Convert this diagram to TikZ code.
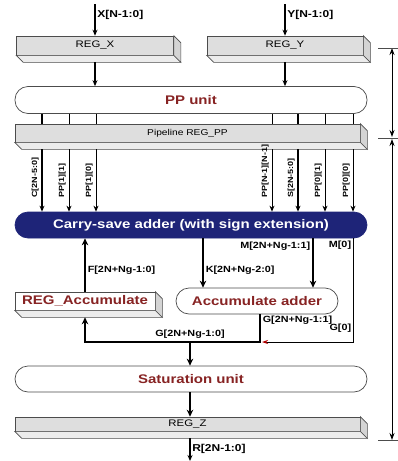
\documentclass[tikz,border=0pt]{standalone}
\usepackage{fontspec}
\setmainfont{Liberation Sans}[FakeStretch=1.2]
\usetikzlibrary{arrows.meta}
\usetikzlibrary{calc}
\definecolor{unitred}{RGB}{135,35,35}
\definecolor{csablue}{RGB}{30,36,120}
\definecolor{regface}{RGB}{222,222,222}
\definecolor{regbot}{RGB}{236,236,236}
\definecolor{regside}{RGB}{212,212,212}
% extruded lower/right faces of a register node
\newcommand{\slab}[1]{%
    \filldraw[fill=regbot, draw=black!70, line width=0.6pt] (#1.south west) -- ++(7,7) -- ($(#1.south east)+(7,7)$) -- (#1.south east) -- cycle;
    \filldraw[fill=regside, draw=black!70, line width=0.6pt] (#1.north east) -- ++(7,7) -- ($(#1.south east)+(7,7)$) -- (#1.south east) -- cycle;}

\begin{document}
\begin{tikzpicture}[x=1pt,y=-1pt,
    reg/.style={draw=black!70, fill=regface, line width=0.6pt, inner sep=0pt, font=\fontsize{9.5}{11}\selectfont},
    unit/.style={draw=black!70, fill=white, line width=0.7pt, rounded corners=13pt, minimum width=352pt, minimum height=27pt, inner sep=0pt, text=unitred, font=\bfseries\fontsize{12.5}{14}\selectfont},
    bus/.style={line width=2.6pt, -{Stealth[length=7pt,width=6.5pt]}},
    sig/.style={line width=1.6pt, -{Stealth[length=6pt,width=5pt]}},
    wire/.style={line width=0.8pt},
    lbl/.style={font=\bfseries\fontsize{9}{10}\selectfont, inner sep=1.5pt},
    vlbl/.style={font=\bfseries\fontsize{7.5}{8}\selectfont, inner sep=1pt, rotate=90, anchor=south west},
    dim/.style={line width=0.9pt, {Stealth[length=7pt,width=5pt]}-{Stealth[length=7pt,width=5pt]}},
]
    \useasboundingbox (0,0) rectangle (398,461);

    % registers and units
    \node[reg, minimum width=157pt, minimum height=19pt] (regx) at (95,45.5) {REG\_X};
    \node[reg, minimum width=156pt, minimum height=19pt] (regy) at (285,45.5) {REG\_Y};
    \node[unit] (pp) at (191,100) {PP unit};
    \node[reg, minimum width=345pt, minimum height=18pt, font=\fontsize{8.5}{10}\selectfont] (regpp) at (187.5,133) {Pipeline REG\_PP};
    \node[unit, fill=csablue, draw=csablue, text=white, minimum height=26pt] (csa) at (191,225) {Carry-save adder (with sign extension)};
    \node[reg, fill=white, minimum width=140pt, minimum height=18pt, text=unitred, font=\bfseries\fontsize{12.5}{14}\selectfont] (regacc) at (85,301) {REG\_Accumulate};
    \node[unit, minimum width=162pt, minimum height=26pt] (accadd) at (257,301) {Accumulate adder};
    \node[unit, minimum height=26pt] (sat) at (191,379) {Saturation unit};
    \node[reg, minimum width=345pt, minimum height=14pt] (regz) at (187.5,424) {REG\_Z};
    \slab{regx}
    \slab{regy}
    \slab{regpp}
    \slab{regacc}
    \slab{regz}

    \coordinate (xin) at (95,4);
    \coordinate (yin) at (285,4);
    \coordinate (ppbot) at ($(regpp.south)+(0,7)$);
    \coordinate (kx) at (203,0);
    \coordinate (mx) at (313,0);
    \coordinate (m0x) at (353,0);
    \coordinate (gjoin) at (260,342);
    \coordinate (gout) at (190,342);
    \coordinate (zbot) at ($(regz.south)+(0,7)$);
    \coordinate (rout) at (190,461);

    % inputs
    \draw[sig] (xin) -- node[pos=0.35, right, lbl, font=\bfseries\fontsize{10}{11}\selectfont] {X[N-1:0]} (regx.north);
    \draw[sig] (yin) -- node[pos=0.35, right, lbl, font=\bfseries\fontsize{10}{11}\selectfont] {Y[N-1:0]} (regy.north);
    \draw[sig] ($(regx.south)+(0,7)$) -- (pp.north -| regx.south);
    \draw[sig] ($(regy.south)+(0,7)$) -- (pp.north -| regy.south);

    % partial products
    \foreach \px/\pw/\ptxt in {42/2.4pt/{C[2N-5:0]}, 69/0.8pt/{PP[1][1]}, 96/0.8pt/{PP[1][0]}, 272/0.8pt/{PP[N-1][N-1]}, 298/2.4pt/{S[2N-5:0]}, 325/0.8pt/{PP[0][1]}, 353/0.8pt/{PP[0][0]}}
    {
        \draw[line width=\pw] (pp.south -| \px,0) -- (regpp.north -| \px,0);
        \draw[line width=\pw, -{Stealth[length=6pt,width=5pt]}] (ppbot -| \px,0) -- (csa.north -| \px,0);
        \node[vlbl] at (\px-2,199) {\ptxt};
    }

    % accumulation loop
    \draw[bus] (regacc.north) -- node[pos=0.4, right, lbl] {F[2N+Ng-1:0]} (csa.south -| regacc.north);
    \draw[bus] (csa.south -| kx) -- node[pos=0.65, right, lbl] {K[2N+Ng-2:0]} (accadd.north -| kx);
    \draw[bus] (csa.south -| mx) -- node[pos=0.15, left, lbl] {M[2N+Ng-1:1]} (accadd.north -| mx);
    \draw[wire, -{Stealth[length=6pt,width=4pt,color=red!70!black]}] (csa.south -| m0x) -- node[pos=0.07, left, lbl] {M[0]} node[pos=0.87, left, lbl] {G[0]} (m0x |- gjoin) -- ([xshift=2pt]gjoin);
    \draw[bus] (accadd.south -| gjoin) -- node[pos=0.2, right, lbl] {G[2N+Ng-1:1]} (gjoin) -- (gjoin -| regacc.south) -- ($(regacc.south)+(0,7)$);
    \node[lbl, above=1.5pt] at (gout) {G[2N+Ng-1:0]};

    % output
    \draw[bus] (gout) -- (sat.north -| gout);
    \draw[bus] (sat.south -| gout) -- (regz.north -| gout);
    \draw[sig] (zbot -| gout) -- node[pos=0.45, right, lbl, font=\bfseries\fontsize{10}{11}\selectfont] {R[2N-1:0]} (rout);

    % pipeline stages
    \coordinate (dtop) at (392,48);
    \coordinate (dmid) at (392,138);
    \coordinate (dbot) at (392,440);
    \draw[dim] (dtop) -- ([yshift=1pt]dmid);
    \draw[dim] ([yshift=-1pt]dmid) -- (dbot);
    \foreach \d in {dtop,dmid,dbot}
        \draw[black!70, line width=0.6pt] ([xshift=-14pt]\d) -- ([xshift=6pt]\d);
\end{tikzpicture}
\end{document}
